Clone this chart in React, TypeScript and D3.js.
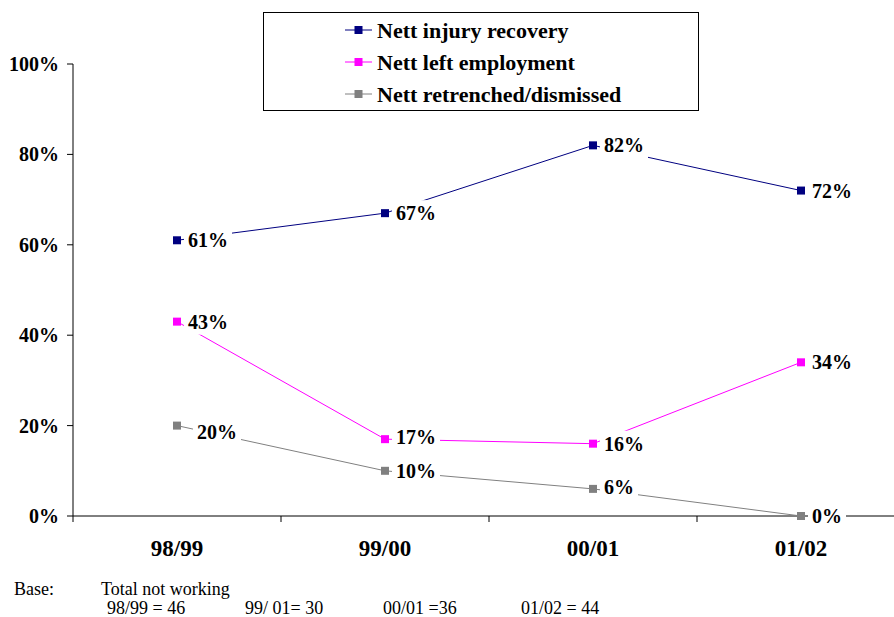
import React from "react";
import * as d3 from "d3";

const categories = ["98/99", "99/00", "00/01", "01/02"];
const injuryRecovery = [61, 67, 82, 72];
const leftEmployment = [43, 17, 16, 34];
const retrenched = [20, 10, 6, 0];
const yTicks = [0, 20, 40, 60, 80, 100];
const seriesNames = ["Nett injury recovery", "Nett left employment", "Nett retrenched/dismissed"];
const seriesColors = ["#000080", "#FF00FF", "#808080"];
const baseNotes = ["98/99 = 46", "99/ 01= 30", "00/01 =36", "01/02 = 44"];

// label nudges (px) per series per point
const labelNudges = [
  [[0, 0], [0, 0], [0, 0], [0, 0]],
  [[0, 0], [0, -2], [0, 0], [0, 0]],
  [[9, 6], [0, 0], [0, -2], [0, 0]],
];

const W = 894;
const H = 617;
const x0 = 73;
const bandW = 208;
const font = "Liberation Serif, DejaVu Serif, serif";

export default function App() {
  const x = d3.scaleBand<string>().domain(categories).range([x0, x0 + bandW * 4]);
  const y = d3.scaleLinear().domain([0, 100]).range([516, 64]);
  const all = [injuryRecovery, leftEmployment, retrenched];
  const line = d3
    .line<number>()
    .x((_, i) => (x(categories[i]) as number) + x.bandwidth() / 2)
    .y((d) => y(d));

  const labelFS = 20;
  const labelW = (s: string) => (s.length - 1) * labelFS * 0.5 + labelFS;
  const ts = { fontFamily: font };

  return (
    <svg width={W} height={H} style={{ position: "absolute", left: 0, top: 0, background: "#fff", fontFamily: font }}>
      <rect width={W} height={H} fill="#fff" />
      {/* axes */}
      <line x1={x0} x2={x0} y1={y(100)} y2={y(0)} stroke="#000" strokeWidth={1} />
      {yTicks.map((t) => (
        <g key={t}>
          <line x1={x0 - 6} x2={x0} y1={y(t)} y2={y(t)} stroke="#000" />
          <text style={ts} x={59} y={y(t)} dy="0.35em" textAnchor="end" fontWeight="bold" fontSize={20}>
            {t}%
          </text>
        </g>
      ))}
      <line x1={x0} x2={x0 + bandW * 4} y1={y(0)} y2={y(0)} stroke="#000" />
      {d3.range(5).map((i) => (
        <line key={i} x1={x0 + i * bandW} x2={x0 + i * bandW} y1={y(0)} y2={y(0) + 6} stroke="#000" />
      ))}
      {categories.map((c) => (
        <text style={ts} key={c} x={(x(c) as number) + x.bandwidth() / 2} y={556} textAnchor="middle" fontWeight="bold" fontSize={23}>
          {c}
        </text>
      ))}
      {/* lines */}
      {all.map((s, si) => (
        <path key={si} d={line(s) || ""} fill="none" stroke={seriesColors[si]} strokeWidth={1} />
      ))}
      {/* markers */}
      {all.map((s, si) =>
        s.map((v, i) => (
          <rect
            key={si + "-" + i}
            x={(x(categories[i]) as number) + x.bandwidth() / 2 - 4}
            y={y(v) - 4}
            width={8}
            height={8}
            fill={seriesColors[si]}
          />
        ))
      )}
      {/* labels */}
      {all.map((s, si) =>
        s.map((v, i) => {
          const cx = (x(categories[i]) as number) + x.bandwidth() / 2;
          const [dx, dy] = labelNudges[si][i];
          const txt = v + "%";
          const tx = cx + 11 + dx;
          const ty = y(v) + dy;
          const w = labelW(txt);
          return (
            <g key={"l" + si + "-" + i}>
              <rect x={tx - 4} y={ty - 13} width={w + 8} height={26} fill="#fff" />
              <text style={ts} x={tx} y={ty} dy="0.35em" fontWeight="bold" fontSize={labelFS}>
                {txt}
              </text>
            </g>
          );
        })
      )}
      {/* legend */}
      <rect x={263.5} y={12.5} width={435} height={98} fill="#fff" stroke="#000" strokeWidth={1} />
      {seriesNames.map((n, i) => {
        const ly = 30 + i * 32;
        return (
          <g key={n}>
            <line x1={345} x2={372} y1={ly} y2={ly} stroke={seriesColors[i]} />
            <rect x={354.5} y={ly - 4} width={8} height={8} fill={seriesColors[i]} />
            <text style={ts} x={377} y={ly} dy="0.35em" fontWeight="bold" fontSize={22}>
              {n}
            </text>
          </g>
        );
      })}
      {/* base notes */}
      <text style={ts} x={14} y={595} fontSize={18}>Base:</text>
      <text style={ts} x={101} y={595} fontSize={18}>Total not working</text>
      {baseNotes.map((b, i) => (
        <text style={ts} key={b} x={107 + i * 138} y={614} fontSize={18}>
          {b}
        </text>
      ))}
    </svg>
  );
}
